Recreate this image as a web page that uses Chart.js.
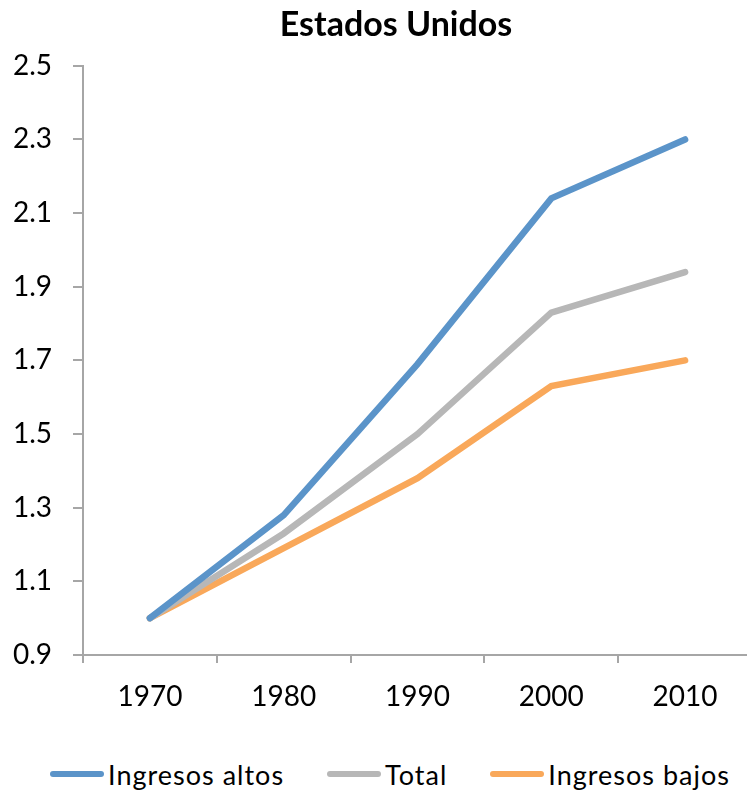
<!DOCTYPE html>
<html lang="es">
<head>
  <meta charset="UTF-8">
  <title>Estados Unidos</title>
  <script src="https://cdn.jsdelivr.net/npm/chart.js"></script>
  <style>
    body {
      margin: 0;
      padding: 0;
      background: #ffffff;
      overflow: hidden;
      font-family: 'Lato', sans-serif;
    }

    .lienzo {
      position: relative;
      width: 792px;
      height: 792px;
    }

    .grafico {
      width: 792px;
      height: 722px;
    }

    /* leyenda abajo, centrada como en el original */
    .leyenda {
      position: absolute;
      left: -6px;
      top: 758px;
      width: 792px;
      height: 34px;
      display: flex;
      justify-content: center;
      align-items: center;
      gap: 43px;
      font-size: 27px;
      line-height: 34px;
      letter-spacing: 1px;
      color: #000000;
    }

    .item {
      display: flex;
      align-items: center;
      gap: 4px;
    }

    .muestra {
      display: inline-block;
      width: 54px;
      height: 6px;
      border-radius: 3px;
      margin-top: -3px;
    }
  </style>
</head>
<body>
  <div class="lienzo">
    <div class="grafico">
      <canvas id="graficoEU"></canvas>
    </div>
    <div class="leyenda" id="leyenda"></div>
  </div>

  <script>
    // datos
    const anios = ['1970', '1980', '1990', '2000', '2010'];
    const ingresosAltos = [1.00, 1.28, 1.69, 2.14, 2.30];
    const total = [1.00, 1.23, 1.50, 1.83, 1.94];
    const ingresosBajos = [1.00, 1.19, 1.38, 1.63, 1.70];

    const cores = {
      altos: '#5b94c9',
      total: '#b7b7b7',
      bajos: '#f9a85a',
      eje: '#a6a6a6'
    };

    Chart.defaults.font.family = 'Lato';
    Chart.defaults.color = '#000000';

    function serie(label, data, color) {
      return {
        label: label,
        data: data,
        borderColor: color,
        backgroundColor: color,
        borderWidth: 6.5,
        borderCapStyle: 'round',
        pointRadius: 0,
        tension: 0
      };
    }

    const ctx = document.getElementById('graficoEU').getContext('2d');

    const grafico = new Chart(ctx, {
      type: 'line',
      data: {
        labels: anios,
        datasets: [
          serie('Ingresos altos', ingresosAltos, cores.altos),
          serie('Total', total, cores.total),
          serie('Ingresos bajos', ingresosBajos, cores.bajos)
        ]
      },
      options: {
        responsive: true,
        maintainAspectRatio: false,
        animation: false,
        layout: {
          padding: 0
        },
        plugins: {
          title: {
            display: true,
            text: 'Estados Unidos',
            font: { size: 34, weight: 'bold' },
            padding: { top: 5, bottom: 20 }
          },
          legend: { display: false },
          tooltip: { enabled: false }
        },
        scales: {
          x: {
            offset: true,
            grid: {
              offset: true,
              drawOnChartArea: false,
              tickLength: 8,
              color: cores.eje,
              lineWidth: 2
            },
            border: { color: cores.eje, width: 2 },
            ticks: {
              padding: 17,
              font: { size: 28 }
            },
            afterFit: function (escala) { escala.height = 67; }
          },
          y: {
            min: 0.9,
            max: 2.5,
            grid: {
              drawOnChartArea: false,
              tickLength: 10,
              color: cores.eje,
              lineWidth: 2
            },
            border: { color: cores.eje, width: 2 },
            ticks: {
              stepSize: 0.2,
              padding: 21,
              font: { size: 28 },
              callback: v => v.toFixed(1)
            },
            afterFit: function (escala) { escala.width = 83; }
          },
          // eje vacío a la derecha: deja el área del gráfico hasta x=752
          derecha: {
            position: 'right',
            grid: { display: false },
            border: { display: false },
            ticks: { display: false },
            afterFit: function (escala) { escala.width = 40; }
          }
        }
      }
    });

    // leyenda en HTML con los mismos colores de las series
    const leyenda = document.getElementById('leyenda');
    grafico.data.datasets.forEach(ds => {
      const item = document.createElement('div');
      item.className = 'item';
      const muestra = document.createElement('span');
      muestra.className = 'muestra';
      muestra.style.background = ds.borderColor;
      const texto = document.createElement('span');
      texto.textContent = ds.label;
      item.appendChild(muestra);
      item.appendChild(texto);
      leyenda.appendChild(item);
    });
  </script>
</body>
</html>
